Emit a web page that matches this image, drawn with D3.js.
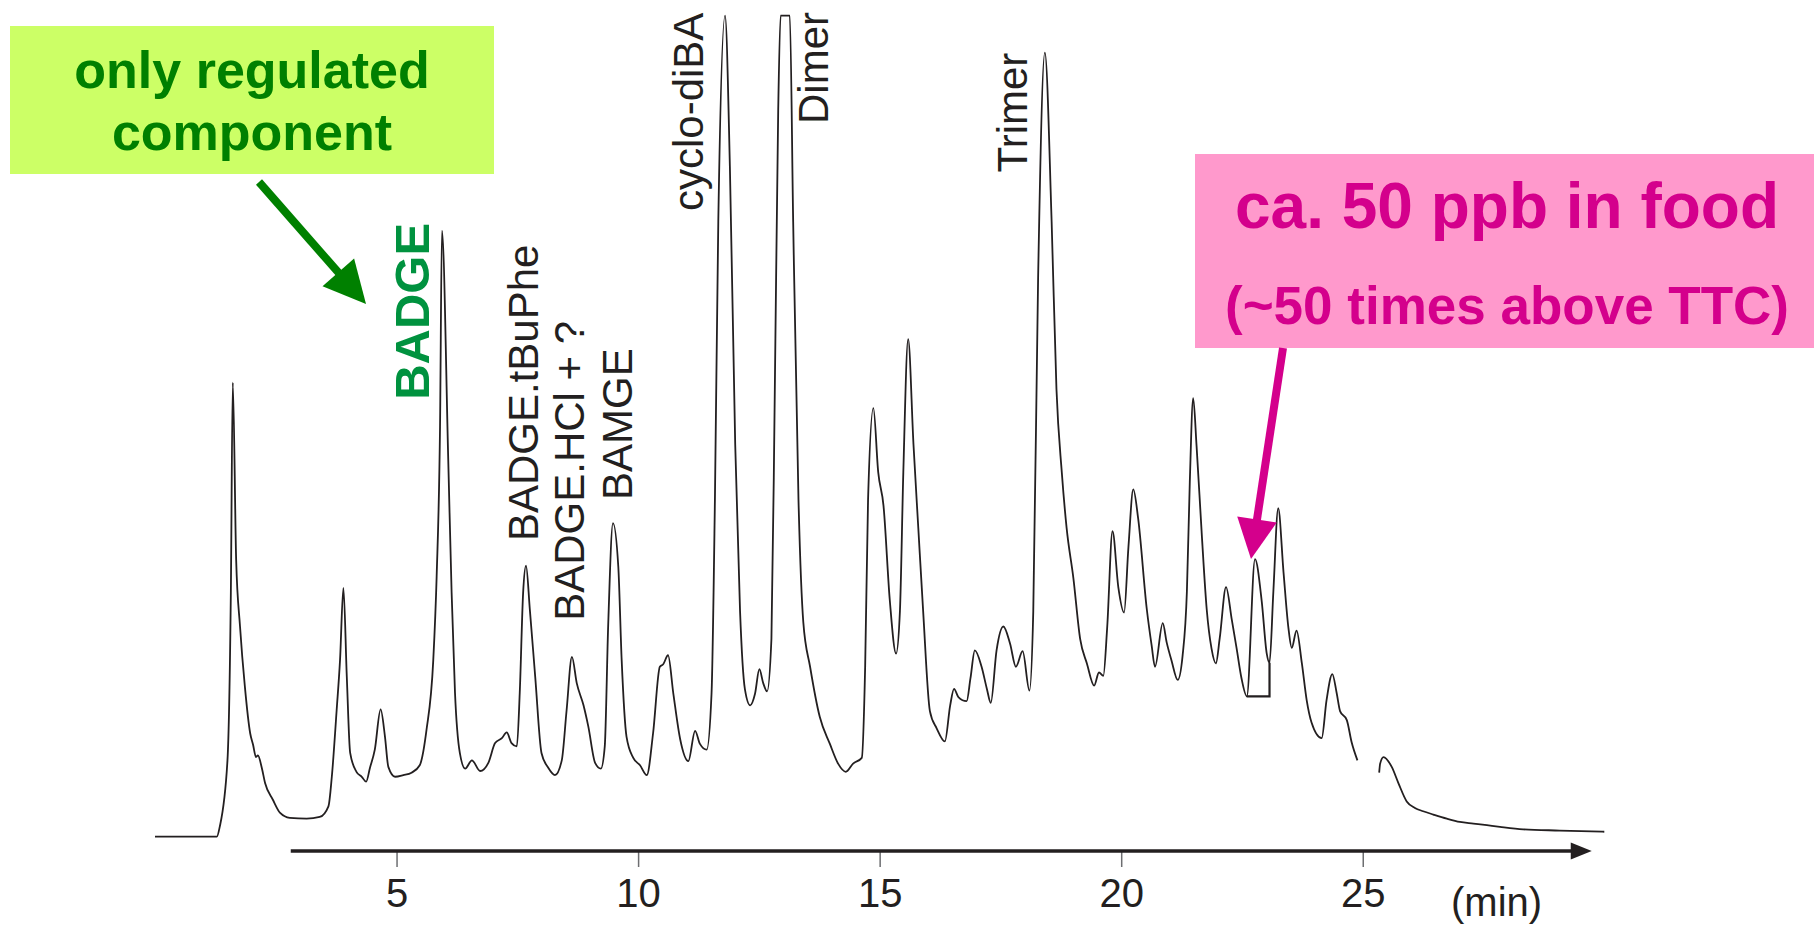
<!DOCTYPE html>
<html>
<head>
<meta charset="utf-8">
<script src="https://cdn.jsdelivr.net/npm/d3@7"></script>
<style>
  body { margin: 0; background: #fff; }
  svg { display: block; font-family: "Liberation Sans", Arial, sans-serif; }
</style>
</head>
<body>
<svg id="chart" width="1814" height="928"></svg>
<script>
// retention time (min) and detector signal (arbitrary units, top of the plot = 100)
// null marks the break in the trace near 25 min
const traceTime = [
  0, 1.28, 1.34, 1.50, 1.57, 1.61, 1.68, 1.76, 1.86, 1.97, 2.03, 2.09, 2.13, 2.21, 2.28, 2.44, 2.59, 2.79,
  3.14, 3.41, 3.59, 3.66, 3.76, 3.83, 3.90, 3.97, 4.04, 4.17, 4.28, 4.37, 4.45, 4.55, 4.67, 4.76, 4.83, 4.97,
  5.14, 5.31, 5.48, 5.62, 5.76, 5.83, 5.90, 5.94, 6.07, 6.14, 6.21, 6.31, 6.42, 6.56, 6.73, 6.90,
  7.04, 7.18, 7.28, 7.38, 7.49, 7.55, 7.62, 7.68, 7.76, 7.87, 8.00, 8.14, 8.28, 8.42, 8.52, 8.63, 8.73, 8.87, 8.97,
  9.11, 9.23, 9.31, 9.38, 9.48, 9.59, 9.66, 9.76, 9.90, 10.04, 10.18, 10.31, 10.45, 10.52, 10.62, 10.73, 10.87,
  11.04, 11.18, 11.28, 11.42, 11.52, 11.59, 11.66, 11.80, 11.90, 12.01, 12.11, 12.21, 12.32, 12.42, 12.51, 12.59, 12.67,
  12.76, 12.83, 12.90, 12.95, 13.14, 13.21, 13.32, 13.42, 13.56, 13.76, 13.97, 14.14, 14.30, 14.45, 14.63, 14.70,
  14.76, 14.87, 14.97, 15.08, 15.21, 15.34, 15.42, 15.49, 15.59, 15.70, 15.80, 15.90, 16.04, 16.18, 16.35, 16.46,
  16.54, 16.63, 16.80, 16.88, 16.97, 17.11, 17.22, 17.30, 17.42, 17.56, 17.70, 17.82, 17.96, 18.10, 18.18, 18.28,
  18.42, 18.56, 18.66, 18.77, 18.87, 19.01, 19.15, 19.29, 19.44, 19.54, 19.63, 19.71, 19.82, 19.94, 20.06, 20.15,
  20.25, 20.35, 20.53, 20.63, 20.70, 20.86, 20.94, 21.04, 21.17, 21.27, 21.36, 21.42, 21.49, 21.56, 21.67, 21.77,
  21.87, 21.96, 22.04, 22.17, 22.29, 22.39, 22.49, 22.60, 22.77, 22.91, 23.01, 23.07, 23.15, 23.25, 23.36, 23.46,
  23.53, 23.63, 23.74, 23.84, 23.94, 24.15, 24.25, 24.37, 24.46, 24.53, 24.67, 24.77, 24.89, 25.10,
  25.34, 25.36, 25.43, 25.60, 25.74, 25.91, 26.08, 26.25, 26.46, 26.74, 27.01, 27.29, 27.57, 27.84, 28.32, 29.08, 30.0
];
const traceSignal = [
  0, 0, 1.2, 9.3, 29.7, 55.3, 33.7, 25.6, 18.3, 12.6, 11.2, 9.7, 9.9, 8.4, 6.5, 4.5, 2.9, 2.3,
  2.2, 2.4, 3.7, 7.3, 15.4, 21.5, 30.3, 19.5, 10.2, 7.9, 7.3, 6.7, 8.4, 10.6, 15.5, 12.2, 8.5, 7.3,
  7.5, 7.8, 8.7, 13.0, 21.5, 31.7, 49.9, 73.8, 45.9, 29.7, 17.5, 10.2, 8.3, 9.3, 8.0, 9.0,
  11.4, 12.0, 12.7, 11.4, 11.0, 17.5, 29.7, 33.0, 27.6, 19.5, 10.2, 8.4, 7.5, 9.3, 15.4, 21.9, 18.7, 16.0, 13.4,
  9.0, 8.3, 11.0, 25.6, 38.2, 32.9, 21.5, 12.2, 9.6, 8.7, 7.5, 12.6, 20.7, 21.0, 22.1, 17.4, 11.9,
  9.2, 12.9, 11.3, 10.6, 17.4, 41.0, 74.9, 100, 81.6, 47.8, 27.5, 18.0, 16.0, 17.4, 20.4, 18.7, 17.7,
  24.1, 54.5, 88.4, 100, 100, 74.9, 41.0, 26.1, 20.7, 14.6, 11.3, 8.9, 7.9, 8.9, 9.6, 20.7,
  41.0, 52.2, 44.4, 40.3, 28.8, 22.3, 27.5, 44.4, 60.6, 47.8, 37.6, 27.5, 15.3, 13.2, 11.6, 16.0,
  18.0, 17.0, 16.5, 19.3, 22.7, 20.7, 18.0, 16.3, 22.7, 25.6, 23.5, 20.7, 22.6, 17.8, 27.5, 68.0,
  95.5, 74.9, 54.5, 44.4, 37.6, 31.5, 24.1, 21.1, 18.4, 20.0, 19.6, 25.5, 37.2, 30.4, 27.3, 35.3,
  42.3, 38.8, 27.7, 23.3, 20.7, 26.0, 23.7, 21.5, 19.1, 22.0, 29.9, 43.2, 53.4, 47.6, 36.6, 27.7,
  22.9, 21.1, 24.2, 30.4, 26.4, 22.9, 19.3, 17.1, 33.8, 28.6, 22.4, 21.2, 29.9, 40.0, 32.2, 25.5,
  23.0, 25.1, 21.1, 16.6, 13.9, 12.0, 16.6, 19.8, 17.5, 15.3, 14.2, 11.5, 9.3, null,
  7.8, 8.9, 9.7, 8.5, 6.5, 4.3, 3.5, 3.1, 2.7, 2.2, 1.8, 1.6, 1.4, 1.2, 0.9, 0.75, 0.6
];

// x axis
const tickValues = [5, 10, 15, 20, 25];
const axisStart = 2.81;
const axisEnd = 29.74;

// peak names, retention time where each rotated name sits and the signal level where it starts
const peakLabels = ["BADGE", "BADGE.tBuPhe", "BADGE.HCl + ?", "BAMGE", "cyclo-diBA", "Dimer", "Trimer"];
const labelTime = [5.67, 7.93, 8.88, 9.87, 11.34, 13.93, 18.04];
const labelLevel = [53.2, 36.0, 26.3, 41.0, 76.2, 86.8, 80.9];

// integrated peak at ~22.8 min (start, end) and its baseline level
const integrationWindow = [22.60, 23.07];
const integrationFloor = 17.1;

const svg = d3.select("#chart");
const ink = "#231f20";

const x = d3.scaleLinear().domain([0, 30]).range([155, 1604.3]);
const y = d3.scaleLinear().domain([0, 100]).range([836.7, 15.6]);

const points = traceTime.map((t, i) => ({ t, v: traceSignal[i] }));

// chromatogram trace
const line = d3.line()
  .defined(d => d.v !== null)
  .x(d => x(d.t))
  .y(d => y(d.v))
  .curve(d3.curveMonotoneX);

svg.append("path")
  .datum(points)
  .attr("d", line)
  .attr("fill", "none")
  .attr("stroke", ink)
  .attr("stroke-width", 1.8)
  .attr("stroke-linejoin", "round");

// integration marks: drop to baseline and close at the right side
const endSignal = traceSignal[traceTime.indexOf(integrationWindow[1])];
svg.append("path")
  .attr("d", `M${x(integrationWindow[0])},${y(integrationFloor)}H${x(integrationWindow[1])}V${y(endSignal)}`)
  .attr("fill", "none")
  .attr("stroke", ink)
  .attr("stroke-width", 2.2);

// x axis with arrow
const axisY = 851;
const xAxis = d3.axisBottom(x).tickValues(tickValues).tickSize(16).tickFormat(d3.format("d"));
const axisG = svg.append("g")
  .attr("transform", `translate(0,${axisY})`)
  .call(xAxis)
  .attr("font-size", 40)
  .attr("font-family", "'Liberation Sans', Arial, sans-serif");
axisG.select(".domain").remove();
axisG.selectAll(".tick line").attr("stroke", "#6d6e71").attr("stroke-width", 1.5);
axisG.selectAll(".tick text").attr("fill", ink).attr("dy", null).attr("y", 56);

svg.append("line")
  .attr("x1", x(axisStart)).attr("x2", x(axisEnd) - 10)
  .attr("y1", axisY).attr("y2", axisY)
  .attr("stroke", ink).attr("stroke-width", 3.5);
svg.append("path")
  .attr("d", `M${x(axisEnd)},${axisY}l-21,-8.5v17z`)
  .attr("fill", ink);

svg.append("text")
  .attr("x", 1451).attr("y", 916)
  .attr("font-size", 40).attr("fill", ink)
  .text("(min)");

// rotated peak names
svg.append("g").selectAll("text")
  .data(peakLabels)
  .join("text")
  .attr("transform", (d, i) => `translate(${x(labelTime[i])},${y(labelLevel[i])}) rotate(-90)`)
  .attr("font-size", (d, i) => i === 0 ? 49 : 42)
  .attr("font-weight", (d, i) => i === 0 ? "bold" : "normal")
  .attr("fill", (d, i) => i === 0 ? "#00923f" : ink)
  .text(d => d);

// green call-out
const green = "#008000";
svg.append("rect")
  .attr("x", 10).attr("y", 26).attr("width", 484).attr("height", 148)
  .attr("fill", "#ccff66");
svg.append("text")
  .attr("x", 252).attr("y", 88)
  .attr("text-anchor", "middle").attr("font-size", 52).attr("font-weight", "bold")
  .attr("fill", green)
  .text("only regulated");
svg.append("text")
  .attr("x", 252).attr("y", 150)
  .attr("text-anchor", "middle").attr("font-size", 52).attr("font-weight", "bold")
  .attr("fill", green)
  .text("component");

function arrow(x1, y1, x2, y2, color, width, headLen, headHalf) {
  const a = Math.atan2(y2 - y1, x2 - x1);
  const bx = x2 - headLen * Math.cos(a), by = y2 - headLen * Math.sin(a);
  const nx = -Math.sin(a) * headHalf, ny = Math.cos(a) * headHalf;
  svg.append("line")
    .attr("x1", x1).attr("y1", y1).attr("x2", bx + 2 * Math.cos(a)).attr("y2", by + 2 * Math.sin(a))
    .attr("stroke", color).attr("stroke-width", width);
  svg.append("path")
    .attr("d", `M${x2},${y2}L${bx + nx},${by + ny}L${bx - nx},${by - ny}Z`)
    .attr("fill", color);
}
arrow(259, 182, 366, 304, green, 8, 42, 21);

// magenta call-out
const magenta = "#d4008c";
svg.append("rect")
  .attr("x", 1195).attr("y", 154).attr("width", 619).attr("height", 194)
  .attr("fill", "#ff99cc");
svg.append("text")
  .attr("x", 1507).attr("y", 228)
  .attr("text-anchor", "middle").attr("font-size", 64).attr("font-weight", "bold")
  .attr("fill", magenta)
  .text("ca. 50 ppb in food");
svg.append("text")
  .attr("x", 1507).attr("y", 324)
  .attr("text-anchor", "middle").attr("font-size", 53).attr("font-weight", "bold")
  .attr("fill", magenta)
  .text("(~50 times above TTC)");
arrow(1283, 348, 1251, 559, magenta, 8, 40, 20);
</script>
</body>
</html>
